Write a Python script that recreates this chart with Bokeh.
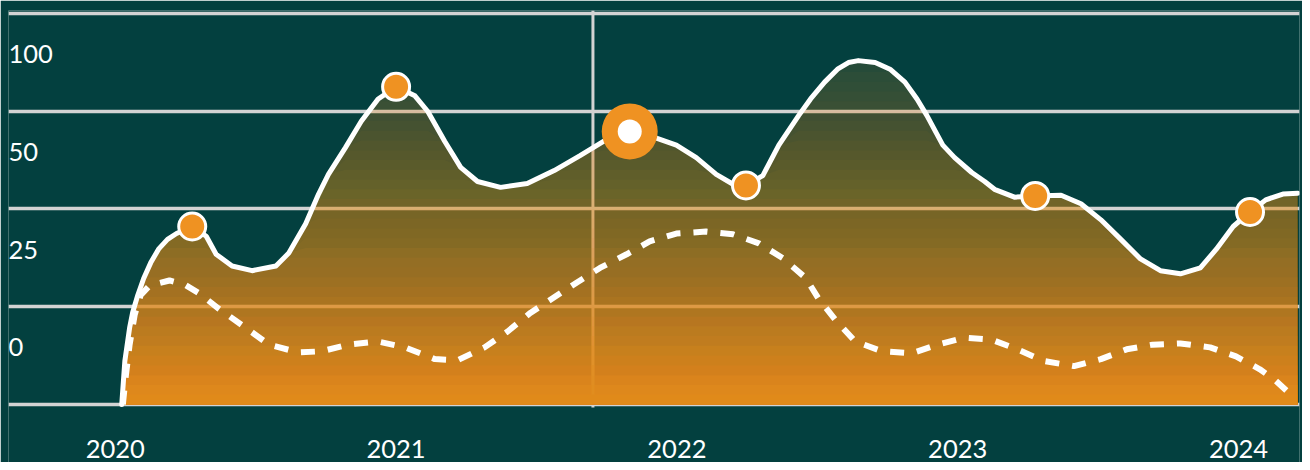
import numpy as np
from bokeh.plotting import figure
from bokeh.models import FixedTicker, LabelSet, ColumnDataSource
from bokeh.core.properties import value
from bokeh.embed import file_html
from bokeh.resources import INLINE

# ---------------- data ----------------
years = [2020, 2021, 2022, 2023, 2024]
year_labels = ["2020", "2021", "2022", "2023", "2024"]

grid_values = [0, 25, 50, 75, 100]
y_label_positions = [0, 25, 50, 75]
y_tick_labels = ["0", "25", "50", "100"]

main_x = [2020.023, 2020.034, 2020.051, 2020.062, 2020.080, 2020.101, 2020.126, 2020.154,
          2020.186, 2020.218, 2020.274,
          2020.324, 2020.359, 2020.416, 2020.487, 2020.572, 2020.618, 2020.678, 2020.724,
          2020.759, 2020.819, 2020.876, 2020.936, 2021.000, 2021.067, 2021.113, 2021.173,
          2021.230, 2021.290, 2021.372, 2021.467, 2021.563, 2021.655, 2021.740, 2021.832,
          2021.927, 2021.998, 2022.069, 2022.140, 2022.200, 2022.246, 2022.306, 2022.363,
          2022.434, 2022.476, 2022.526, 2022.572, 2022.611, 2022.646, 2022.706, 2022.759,
          2022.812, 2022.855, 2022.890, 2022.947, 2022.989,
          2023.050, 2023.096, 2023.131, 2023.202, 2023.276, 2023.368, 2023.439,
          2023.510, 2023.581, 2023.651, 2023.722, 2023.793, 2023.864, 2023.921, 2023.981,
          2024.041, 2024.097, 2024.158, 2024.211]
main_y = [0.0, 11.1, 19.6, 23.6, 27.9, 32.2, 36.2, 39.7,
          42.2, 43.7, 45.5,
          43.0, 38.4, 35.4, 34.2, 35.4, 38.7, 46.2, 53.8,
          58.8, 65.6, 72.4, 78.1, 81.2, 78.9, 74.9, 67.3,
          60.6, 57.0, 55.5, 56.5, 59.8, 63.6, 67.3, 69.8,
          68.1, 66.3, 63.1, 58.8, 56.3, 56.0, 58.5, 66.3,
          73.9, 78.1, 82.4, 85.7, 87.4, 87.9, 87.4, 85.7,
          82.4, 78.1, 73.9, 66.3, 63.1,
          59.3, 57.0, 55.0, 53.0, 53.3, 53.5, 51.3,
          47.2, 42.2, 37.2, 34.2, 33.4, 34.9, 39.7, 45.5,
          49.2, 52.3, 53.8, 54.0]

dash_x = [2020.027, 2020.037, 2020.051, 2020.069, 2020.090, 2020.122, 2020.193, 2020.246,
          2020.299, 2020.370, 2020.465, 2020.547, 2020.653, 2020.735, 2020.830, 2020.936,
          2021.032, 2021.138, 2021.219, 2021.315, 2021.396, 2021.478, 2021.563, 2021.644,
          2021.726, 2021.821, 2021.903, 2021.998, 2022.104, 2022.200, 2022.292, 2022.377,
          2022.458, 2022.504, 2022.565, 2022.635, 2022.731, 2022.837, 2022.929, 2023.025,
          2023.120, 2023.212, 2023.308, 2023.414, 2023.510, 2023.602, 2023.694, 2023.793,
          2023.899, 2023.991, 2024.076, 2024.129, 2024.182]
dash_y = [0.0, 7.0, 15.3, 22.9, 27.9, 30.4, 31.7, 30.7,
          28.4, 24.4, 19.6, 15.3, 13.3, 13.6, 15.3, 16.1,
          14.6, 11.6, 11.3, 14.6, 18.6, 23.4, 27.4, 31.2,
          34.9, 38.4, 41.7, 43.7, 44.2, 43.5, 41.2, 37.4,
          32.4, 27.1, 21.6, 16.1, 13.6, 13.1, 15.3, 17.1,
          16.6, 14.1, 11.1, 9.8, 11.6, 14.1, 15.3, 15.6,
          14.6, 12.3, 9.0, 6.3, 2.8]

marker_x = [2020.274, 2021.000, 2022.246, 2023.276, 2024.041]
marker_y = [45.5, 81.2, 56.0, 53.3, 49.2]
highlight_x = [2021.832]
highlight_y = [69.8]
cursor_x = 2021.701

# ---------------- style ----------------
BG = "#03403f"
ORANGE = "#ef9222"
GRID = "#d3d3d3"
WHITE = "#ffffff"
FONT = "Lato"

X_START, X_END = 2019.6197, 2024.2172
Y_START, Y_END = -14.83, 100.71
CURSOR_BOTTOM = -0.77

p = figure(width=1302, height=462, frame_width=1291, frame_height=452,
           x_range=(X_START, X_END), y_range=(Y_START, Y_END),
           output_backend="svg", toolbar_location=None,
           min_border_left=8, min_border_right=3, min_border_top=10, min_border_bottom=0,
           background_fill_color=BG, border_fill_color=BG, outline_line_color=None)

p.xaxis.visible = False
p.yaxis.visible = False
p.ygrid.ticker = FixedTicker(ticks=grid_values)
p.ygrid.grid_line_color = GRID
p.ygrid.grid_line_width = 3.5
p.xgrid.grid_line_color = None

# cursor line (under the fill)
p.segment(x0=[cursor_x], y0=[CURSOR_BOTTOM], x1=[cursor_x], y1=[Y_END],
          line_color=GRID, line_width=3)

# gradient fill: stacked translucent layers (opaque at bottom, clear at top)
mx = np.array(main_x)
my = np.array(main_y)
N = 40
top = grid_values[-1]
for j in range(1, N + 1):
    level = top * j / N
    p.varea(x=mx, y1=0, y2=np.minimum(my, level), fill_color=ORANGE,
            fill_alpha=1.0 / j)

p.line(dash_x, dash_y, line_color=WHITE, line_width=6, line_dash="14 13")
p.line(main_x, main_y, line_color=WHITE, line_width=5, line_join="round", line_cap="round")

p.scatter(marker_x, marker_y, size=27, fill_color=ORANGE, line_color=WHITE, line_width=3)
p.scatter(highlight_x, highlight_y, size=56, fill_color=ORANGE, line_color=None)
p.scatter(highlight_x, highlight_y, size=24, fill_color=WHITE, line_color=None)

ysrc = ColumnDataSource(dict(y=y_label_positions, text=y_tick_labels))
p.add_layout(LabelSet(x=X_START, y="y", text="text", source=ysrc,
                      x_offset=0, y_offset=57, text_font=value(FONT),
                      text_font_size="25.5px", text_color=WHITE,
                      text_baseline="middle", text_align="left"))

xsrc = ColumnDataSource(dict(x=years, y=[grid_values[0]] * len(years), text=year_labels))
p.add_layout(LabelSet(x="x", y="y", text="text", source=xsrc,
                      y_offset=-44.5, text_font=value(FONT), text_font_size="25.5px",
                      text_color=WHITE, text_baseline="middle", text_align="center"))

open("out.html", "w").write(file_html(p, INLINE))
